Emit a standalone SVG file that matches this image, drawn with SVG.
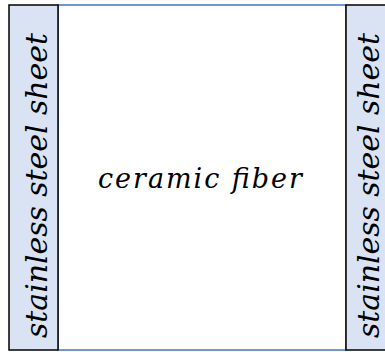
<svg xmlns="http://www.w3.org/2000/svg" width="385" height="352" viewBox="0 0 385 352">
<style>
.sheet{fill:#dae3f3;stroke:#000;stroke-width:1.5}
.t{font-family:"DejaVu Serif","Liberation Serif",serif;font-style:italic;fill:#000;text-anchor:middle}
.side{font-size:30px}
.mid{font-size:27px}
</style>
<rect width="385" height="352" fill="#fff"/>
<g id="fiber">
<rect x="58" y="5" width="288" height="345" fill="#fff" stroke="#4472c4" stroke-width="1.5"/>
<text class="t mid" x="200" y="188" textLength="204" lengthAdjust="spacing">ceramic fiber</text>
</g>
<g id="left-sheet">
<rect class="sheet" x="9" y="5" width="49" height="345"/>
<text class="t side" transform="translate(47,185.5) rotate(-90)" textLength="305" lengthAdjust="spacing">stainless steel sheet</text>
</g>
<g id="right-sheet">
<rect class="sheet" x="346" y="5" width="45" height="345"/>
<text class="t side" transform="translate(379,185.5) rotate(-90)" textLength="305" lengthAdjust="spacing">stainless steel sheet</text>
</g>
<g id="connectors"/>
</svg>
